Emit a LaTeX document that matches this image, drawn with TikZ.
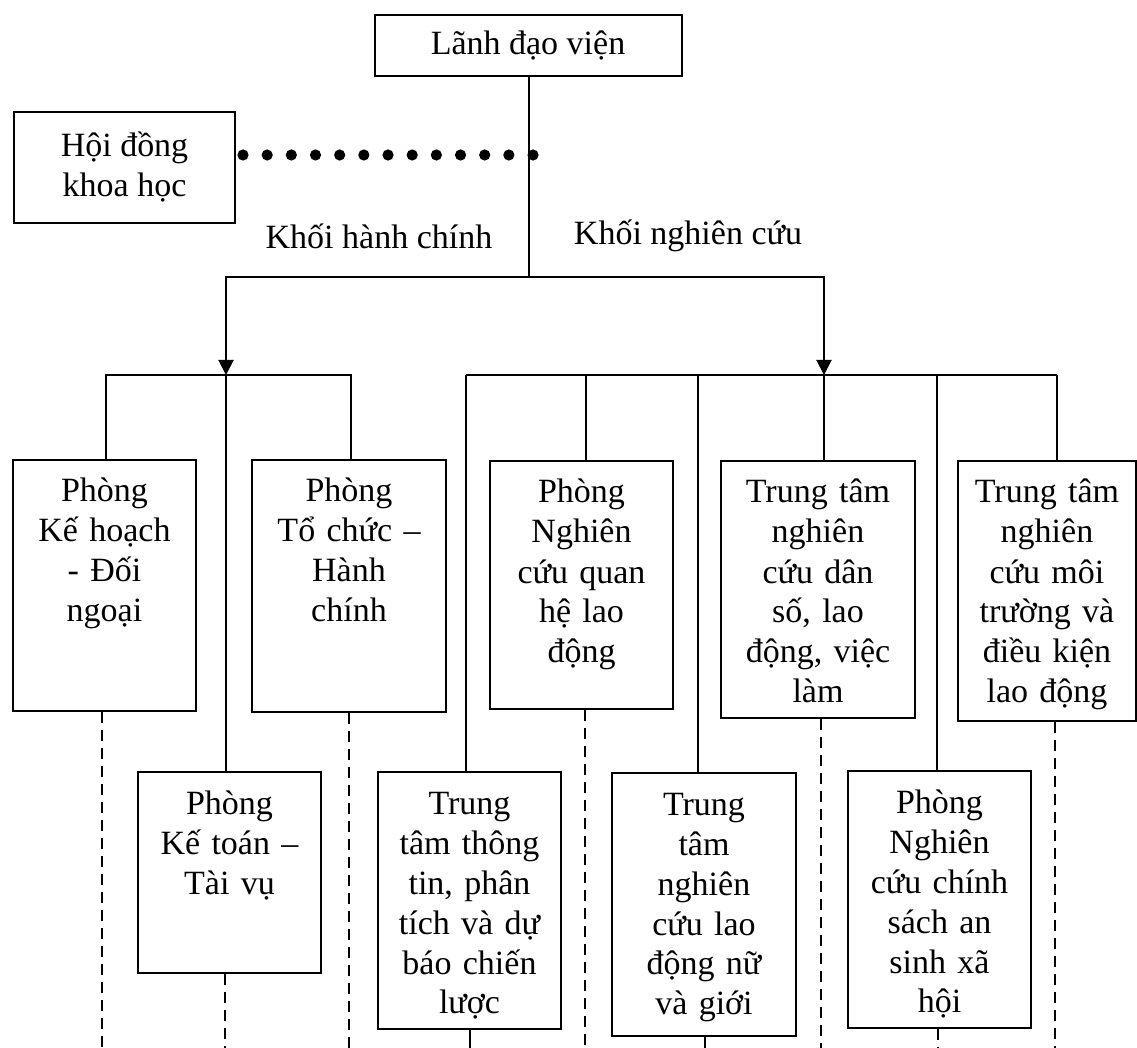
\documentclass[tikz,border=0pt]{standalone}
\usepackage{fontspec}
\setmainfont{Liberation Serif}
\usepackage{tikz}
\usetikzlibrary{arrows.meta, positioning}

\begin{document}
\begin{tikzpicture}[
  x=0.5pt, y=-0.5pt,
  font=\fontsize{17}{20}\selectfont,
  unit/.style={rectangle, draw, line width=1pt, inner sep=0pt,
              anchor=north, align=center, text width=91.5pt,
              text height=21pt},
  headbox/.style={rectangle, draw, line width=1pt, align=center},
  link/.style={line width=1pt},
  arrow/.style={-{Triangle[width=7.5pt, length=7.5pt]}, line width=1pt},
  branch/.style={dash pattern=on 5.5pt off 3.5pt, line width=1pt}
]
  \clip (0,0) rectangle (1137,1048);

  % top level
  \node[headbox, minimum width=153.5pt, minimum height=30.5pt] (ld) at (528,45.5) {Lãnh đạo viện};
  \node[headbox, minimum width=110.5pt, minimum height=55.5pt] (hd) at (124.5,167.5) {Hội đồng\\khoa học};
  \node (adminlabel) at (379,236) {Khối hành chính};
  \node (reslabel) at (688,236) {Khối nghiên cứu};

  % administrative units
  \node[unit, text depth=104.5pt] (kh) at (104.5,459) {Phòng\\Kế hoạch\\- Đối\\ngoại};
  \node[unit, text width=97pt, text depth=105pt] (tc) at (349,459) {Phòng\\Tổ chức –\\Hành\\chính};
  \node[unit, text depth=79.5pt] (kt) at (229.5,771) {Phòng\\Kế toán –\\Tài vụ};

  % research units
  \node[unit, text depth=103pt] (qh) at (581.5,460) {Phòng\\Nghiên\\cứu quan\\hệ lao\\động};
  \node[unit, text width=97pt, text depth=107.5pt] (ds) at (818,460) {Trung tâm\\nghiên\\cứu dân\\số, lao\\động, việc\\làm};
  \node[unit, text width=89pt, text depth=109pt] (mt) at (1047,460) {Trung tâm\\nghiên\\cứu môi\\trường và\\điều kiện\\lao động};
  \node[unit, text depth=107.5pt] (tt) at (469.5,771) {Trung\\tâm thông\\tin, phân\\tích và dự\\báo chiến\\lược};
  \node[unit, text width=92pt, text depth=110.5pt] (ln) at (704,772) {Trung\\tâm\\nghiên\\cứu lao\\động nữ\\và giới};
  \node[unit, text depth=107.5pt] (as) at (939.5,770) {Phòng\\Nghiên\\cứu chính\\sách an\\sinh xã\\hội};

  % junctions
  \coordinate (split) at (529,277);
  \coordinate (adm) at (226,375);
  \coordinate (res) at (824,375);
  \coordinate (a1) at (106,375);
  \coordinate (a3) at (351,375);
  \coordinate (r1) at (466,375);
  \coordinate (r2) at (586,375);
  \coordinate (r3) at (698,375);
  \coordinate (r5) at (937,375);
  \coordinate (r6) at (1057,375);

  % loose ends at the bottom
  \coordinate (d1) at (102,1048);
  \coordinate (d2) at (349,1048);
  \coordinate (d3) at (225,1048);
  \coordinate (d4) at (585,1048);
  \coordinate (d5) at (821,1048);
  \coordinate (d6) at (1055,1048);
  \coordinate (d7) at (469.5,1048);
  \coordinate (d8) at (705,1048);
  \coordinate (d9) at (938,1048);

  % council
  \foreach \k in {0,...,12}
    \fill (243+24.17*\k,155) circle (2.8pt);

  \draw[link] (ld.south -| split) -- (split);
  \draw[arrow] (split) -| (adm);
  \draw[arrow] (split) -| (res);

  \draw[link] (a1 |- kh.north) -- (a1) -- (a3) -- (a3 |- tc.north);
  \draw[link] (adm) -- (adm |- kt.north);

  \draw[link] (r1) -- (r6);
  \draw[link] (r1) -- (r1 |- tt.north);
  \draw[link] (r2) -- (r2 |- qh.north);
  \draw[link] (r3) -- (r3 |- ln.north);
  \draw[link] (res) -- (res |- ds.north);
  \draw[link] (r5) -- (r5 |- as.north);
  \draw[link] (r6) -- (r6 |- mt.north);

  \draw[branch] (d1 |- kh.south) -- (d1);
  \draw[branch] (d2 |- tc.south) -- (d2);
  \draw[branch] (d3 |- kt.south) -- (d3);
  \draw[branch] (d4 |- qh.south) -- (d4);
  \draw[branch] (d5 |- ds.south) -- (d5);
  \draw[branch] (d6 |- mt.south) -- (d6);
  \draw[branch] (d9 |- as.south) -- (d9);
  \draw[link] (d7 |- tt.south) -- (d7);
  \draw[link] (d8 |- ln.south) -- (d8);
\end{tikzpicture}
\end{document}
